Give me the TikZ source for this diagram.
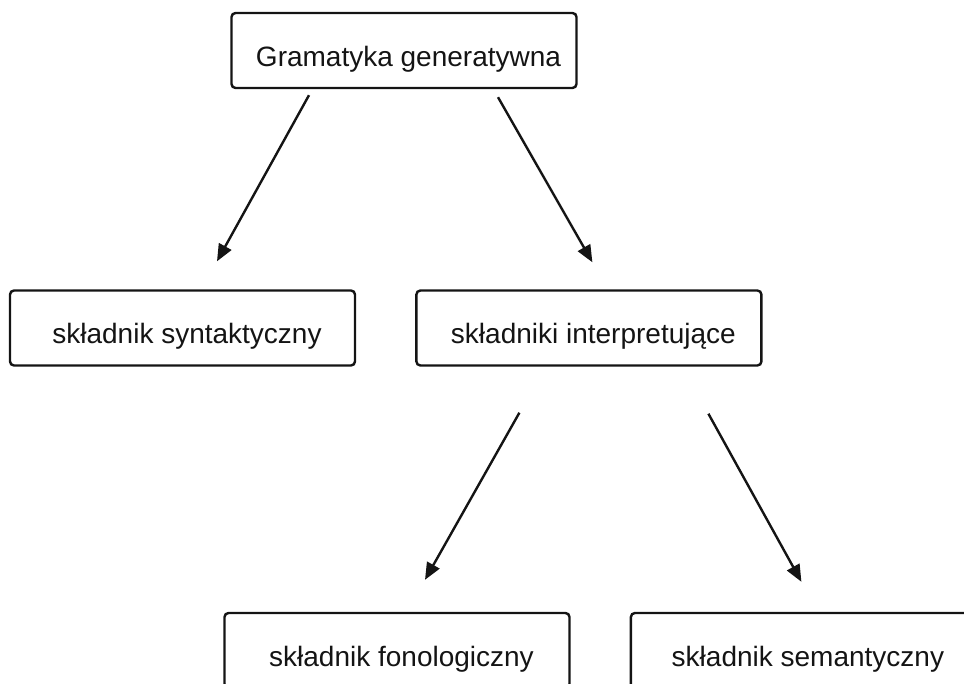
\documentclass[tikz,border=0pt]{standalone}
\usepackage{fontspec}
\setmainfont{Liberation Sans}
\usepackage{tikz}
\usetikzlibrary{arrows.meta, chains, positioning}
\definecolor{ink}{RGB}{20,20,20}

\begin{document}
\begin{tikzpicture}[
   x = 1pt, y = -1pt,
   node distance = 59pt,
   color = ink,
   line width = 2.4pt,
   -{Triangle[length=17pt, width=14pt]},
   box/.style = {draw, rounded corners = 4pt, minimum width = 345pt, minimum height = 75pt,
                 text height = 36pt, text depth = 4pt, font = \fontsize{28}{34}\selectfont,
                 execute at begin node = \hspace*{9pt}}]
   \useasboundingbox (0,0) rectangle (964,684);
   \clip (0,0) rectangle (964,684);

   \node[box] (gram) at (404,50.5) {Gramatyka generatywna};

   \begin{scope}[start chain = going right]
   \node[box, on chain] (synt) at (182.5,328) {składnik syntaktyczny};
   \node[box, on chain] (interp) {składniki interpretujące};
   \end{scope}

   \begin{scope}[start chain = going right]
   \node[box, on chain] (fono) at (397,650.5) {składnik fonologiczny};
   \node[box, on chain] (sem) {składnik semantyczny};
   \end{scope}

   \draw ([xshift=-95pt, yshift=-6pt]gram.south) -- ([xshift=34.5pt, yshift=28pt]synt.north);
   \draw ([xshift=94pt, yshift=-8pt]gram.south) -- ([xshift=3.5pt, yshift=27pt]interp.north);

   \draw ([xshift=-69.5pt, yshift=-46pt]interp.south) -- ([xshift=28pt, yshift=32pt]fono.north);
   \draw ([xshift=119.5pt, yshift=-47pt]interp.south) -- ([xshift=-2pt, yshift=30pt]sem.north);
\end{tikzpicture}
\end{document}
